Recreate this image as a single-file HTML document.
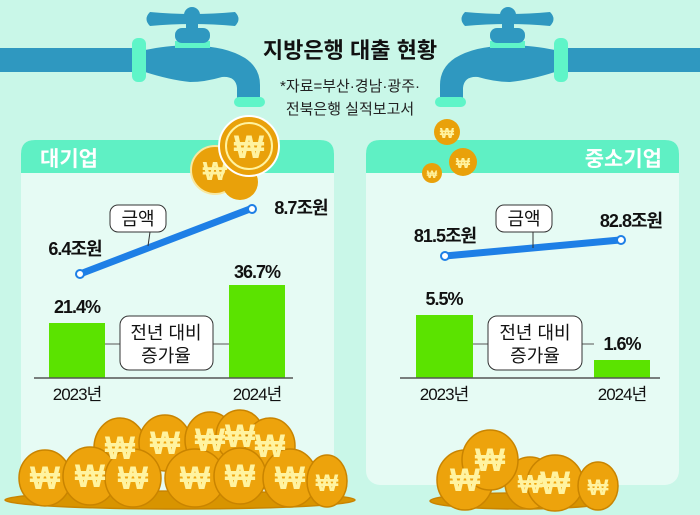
<!DOCTYPE html>
<html><head><meta charset="utf-8"><style>
body{margin:0;background:#c9f7e8;}
svg{display:block;font-family:"Liberation Sans","Noto Sans CJK KR",sans-serif;}
</style></head><body>
<svg width="700" height="515" viewBox="0 0 700 515" xmlns="http://www.w3.org/2000/svg">
<defs>
<g id="faucet">
<rect x="0" y="48" width="135" height="24" fill="#2f98c0"/>
<path d="M145 50 Q175 44 195 46 Q225 46 245 58 Q260 68 260 85 L260 98 L237 98 L237 88 Q236 76 222 77 Q205 82 190 82 Q170 80 145 72 Z" fill="#2f98c0"/>
<rect x="132" y="38" width="14" height="44" rx="6" fill="#5ff5c8"/>
<rect x="175" y="41" width="35" height="7" fill="#5ff5c8"/>
<rect x="175" y="28" width="35" height="15" rx="7" fill="#2f98c0"/>
<path d="M150 12 Q192 16 235 12 Q242 19 235 26 Q192 22 150 26 Q143 19 150 12Z" fill="#2f98c0"/>
<circle cx="192" cy="15" r="8" fill="#2f98c0"/>
<rect x="186" y="20" width="12" height="10" fill="#2f98c0"/>
<rect x="234" y="97" width="31" height="10" rx="5" fill="#5ff5c8"/>
</g>
</defs>
<use href="#faucet"/>
<use href="#faucet" transform="translate(700,0) scale(-1,1)"/>
<text x="350" y="58" font-size="22" font-weight="bold" text-anchor="middle" fill="#111">지방은행 대출 현황</text>
<text x="350" y="91" font-size="15" text-anchor="middle" fill="#222">*자료=부산·경남·광주·</text>
<text x="350" y="114" font-size="15" text-anchor="middle" fill="#222">전북은행 실적보고서</text>
<!-- panels -->
<rect x="21" y="140" width="313" height="360" rx="14" fill="#e6fbf4"/>
<path d="M21 173 V154 Q21 140 35 140 H320 Q334 140 334 154 V173 Z" fill="#5ff0c4"/>
<rect x="366" y="140" width="313" height="345" rx="14" fill="#e6fbf4"/>
<path d="M366 173 V154 Q366 140 380 140 H665 Q679 140 679 154 V173 Z" fill="#5ff0c4"/>
<text x="40" y="166" font-size="21" font-weight="bold" fill="#fff">대기업</text>
<text x="662" y="166" font-size="21" font-weight="bold" fill="#fff" text-anchor="end">중소기업</text>
<!-- falling coins -->
<g font-weight="bold" text-anchor="middle" fill="#fff3a0">
<circle cx="215" cy="170" r="24" fill="#e9a10a" stroke="#f8e8a0" stroke-width="2"/><text x="215" y="180" font-size="26">₩</text>
<circle cx="240" cy="182" r="18" fill="#e9a10a"/>
<circle cx="249" cy="146" r="30" fill="#e9a10a" stroke="#fff" stroke-width="2"/><circle cx="249" cy="146" r="23" fill="none" stroke="#fff3a0" stroke-width="2"/><text x="249" y="158" font-size="32">₩</text>
<circle cx="447" cy="132" r="13" fill="#e9a10a"/><text x="447" y="138" font-size="15">₩</text>
<circle cx="463" cy="162" r="14" fill="#e9a10a"/><text x="463" y="168" font-size="15">₩</text>
<circle cx="432" cy="173" r="10" fill="#e9a10a"/><text x="432" y="178" font-size="11">₩</text>
</g>
<!-- left chart -->
<line x1="80" y1="274" x2="250" y2="209" stroke="#1e7fe6" stroke-width="7" stroke-linecap="round"/>
<circle cx="80" cy="274" r="4" fill="#fff" stroke="#1e7fe6" stroke-width="2"/>
<circle cx="252" cy="209" r="4" fill="#fff" stroke="#1e7fe6" stroke-width="2"/>
<line x1="150" y1="232" x2="148" y2="246" stroke="#333" stroke-width="1"/>
<rect x="110" y="205" width="56" height="27" rx="8" fill="#fff" stroke="#333"/>
<text x="138" y="225" font-size="18" text-anchor="middle" fill="#111">금액</text>
<text x="75" y="255" font-size="18" font-weight="bold" text-anchor="middle" fill="#111" letter-spacing="-1">6.4조원</text>
<text x="301" y="214" font-size="18" font-weight="bold" text-anchor="middle" fill="#111" letter-spacing="-1">8.7조원</text>
<rect x="49" y="323" width="56" height="55" fill="#5be300"/>
<rect x="229" y="285" width="56" height="93" fill="#5be300"/>
<line x1="34" y1="378" x2="293" y2="378" stroke="#555" stroke-width="1.5"/>
<line x1="105" y1="344" x2="229" y2="344" stroke="#555"/>
<rect x="120" y="316" width="93" height="54" rx="9" fill="#fff" stroke="#333"/>
<text x="166" y="339" font-size="18" text-anchor="middle" fill="#111">전년 대비</text>
<text x="166" y="362" font-size="18" text-anchor="middle" fill="#111">증가율</text>
<text x="77" y="313" font-size="18" font-weight="bold" text-anchor="middle" fill="#111" letter-spacing="-1">21.4%</text>
<text x="257" y="278" font-size="18" font-weight="bold" text-anchor="middle" fill="#111" letter-spacing="-1">36.7%</text>
<text x="77" y="400" font-size="17" text-anchor="middle" fill="#111" letter-spacing="-1">2023년</text>
<text x="257" y="400" font-size="17" text-anchor="middle" fill="#111" letter-spacing="-1">2024년</text>
<!-- right chart -->
<line x1="445" y1="256" x2="620" y2="240" stroke="#1e7fe6" stroke-width="7" stroke-linecap="round"/>
<circle cx="445" cy="256" r="4" fill="#fff" stroke="#1e7fe6" stroke-width="2"/>
<circle cx="621" cy="240" r="4" fill="#fff" stroke="#1e7fe6" stroke-width="2"/>
<line x1="533" y1="232" x2="533" y2="248" stroke="#333"/>
<rect x="496" y="205" width="56" height="27" rx="8" fill="#fff" stroke="#333"/>
<text x="524" y="225" font-size="18" text-anchor="middle" fill="#111">금액</text>
<text x="445" y="242" font-size="18" font-weight="bold" text-anchor="middle" fill="#111" letter-spacing="-1">81.5조원</text>
<text x="631" y="227" font-size="18" font-weight="bold" text-anchor="middle" fill="#111" letter-spacing="-1">82.8조원</text>
<rect x="416" y="315" width="57" height="63" fill="#5be300"/>
<rect x="594" y="360" width="56" height="18" fill="#5be300"/>
<line x1="400" y1="378" x2="660" y2="378" stroke="#555" stroke-width="1.5"/>
<line x1="473" y1="344" x2="594" y2="344" stroke="#555"/>
<rect x="488" y="316" width="94" height="54" rx="9" fill="#fff" stroke="#333"/>
<text x="535" y="339" font-size="18" text-anchor="middle" fill="#111">전년 대비</text>
<text x="535" y="362" font-size="18" text-anchor="middle" fill="#111">증가율</text>
<text x="444" y="305" font-size="18" font-weight="bold" text-anchor="middle" fill="#111" letter-spacing="-1">5.5%</text>
<text x="622" y="350" font-size="18" font-weight="bold" text-anchor="middle" fill="#111" letter-spacing="-1">1.6%</text>
<text x="444" y="400" font-size="17" text-anchor="middle" fill="#111" letter-spacing="-1">2023년</text>
<text x="622" y="400" font-size="17" text-anchor="middle" fill="#111" letter-spacing="-1">2024년</text>
<!-- coin piles -->
<g transform="translate(0,8)">
<g stroke="#c98400" stroke-width="1.5">
<ellipse cx="180" cy="492" rx="175" ry="9" fill="#d89400"/>
<ellipse cx="120" cy="440" rx="26" ry="30" fill="#eda30c"/>
<ellipse cx="165" cy="435" rx="26" ry="28" fill="#eda30c"/>
<ellipse cx="210" cy="432" rx="25" ry="28" fill="#eda30c"/>
<ellipse cx="240" cy="428" rx="24" ry="26" fill="#eda30c"/>
<ellipse cx="270" cy="438" rx="25" ry="28" fill="#eda30c"/>
<ellipse cx="45" cy="470" rx="26" ry="28" fill="#eda30c"/>
<ellipse cx="90" cy="468" rx="27" ry="29" fill="#eda30c"/>
<ellipse cx="133" cy="470" rx="28" ry="29" fill="#eda30c"/>
<ellipse cx="195" cy="470" rx="30" ry="29" fill="#eda30c"/>
<ellipse cx="240" cy="468" rx="26" ry="28" fill="#eda30c"/>
<ellipse cx="290" cy="470" rx="27" ry="29" fill="#eda30c"/>
<ellipse cx="327" cy="473" rx="20" ry="26" fill="#eda30c"/>
<ellipse cx="520" cy="493" rx="90" ry="8" fill="#d89400"/>
<ellipse cx="465" cy="472" rx="28" ry="30" fill="#eda30c"/>
<ellipse cx="530" cy="475" rx="25" ry="26" fill="#eda30c"/>
<ellipse cx="490" cy="452" rx="28" ry="30" fill="#eda30c"/>
<ellipse cx="555" cy="475" rx="28" ry="28" fill="#eda30c"/>
<ellipse cx="598" cy="478" rx="20" ry="24" fill="#eda30c"/>
</g>
<g font-weight="bold" text-anchor="middle" fill="#fff3a0" font-size="32">
<text x="120" y="451">₩</text><text x="165" y="446">₩</text><text x="210" y="443">₩</text><text x="240" y="439">₩</text><text x="270" y="449">₩</text>
<text x="45" y="481">₩</text><text x="90" y="479">₩</text><text x="133" y="481">₩</text><text x="195" y="481">₩</text><text x="240" y="479">₩</text><text x="290" y="481">₩</text><text x="327" y="483" font-size="24">₩</text>
<text x="465" y="483">₩</text><text x="530" y="485" font-size="26">₩</text><text x="490" y="463">₩</text><text x="555" y="486">₩</text><text x="598" y="487" font-size="22">₩</text>
</g>
</g>
</svg>
</body></html>
